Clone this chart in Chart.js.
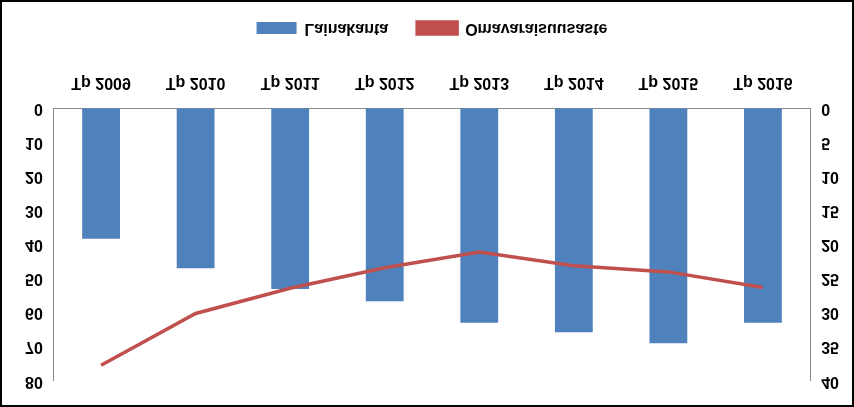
<!DOCTYPE html>
<html>
<head>
<meta charset="utf-8">
<script src="https://cdn.jsdelivr.net/npm/chart.js@4/dist/chart.umd.min.js"></script>
<style>
  html, body { margin: 0; padding: 0; background: #fff; }
  #wrap { width: 850px; height: 403px; border: 2px solid #000; position: relative; }
  /* reference is vertically mirrored */
  #chart { transform: scaleY(-1); }
</style>
</head>
<body>
<div id="wrap"><canvas id="chart" width="850" height="403"></canvas></div>
<script>
const labels = ["Tp 2009", "Tp 2010", "Tp 2011", "Tp 2012", "Tp 2013", "Tp 2014", "Tp 2015", "Tp 2016"];
const lainakanta = [38.3, 46.9, 53, 56.6, 62.9, 65.7, 68.9, 62.9];
const omavaraisuus = [37.7, 30.1, 26.4, 23.4, 21.1, 23.1, 24, 26.3];

const font = { family: "Liberation Sans, Arial", size: 16, weight: "bold" };

new Chart(document.getElementById("chart"), {
  data: {
    labels: labels,
    datasets: [
      {
        type: "line",
        label: "Omavaraisuusaste",
        data: omavaraisuus,
        yAxisID: "y1",
        borderColor: "#C0504D",
        backgroundColor: "#C0504D",
        borderWidth: 3.5,
        pointRadius: 0,
        tension: 0,
        order: 0,
      },
      {
        type: "bar",
        label: "Lainakanta",
        data: lainakanta,
        yAxisID: "y",
        backgroundColor: "#4F81BD",
        categoryPercentage: 0.8,
        barPercentage: 0.5,
        order: 1,
      },
    ],
  },
  options: {
    responsive: false,
    animation: false,
    layout: { padding: { left: 20, right: 10, top: 24, bottom: 8 } },
    plugins: {
      legend: {
        position: "bottom",
        reverse: true,
        labels: { font: font, color: "#000", boxWidth: 40, boxHeight: 12, padding: 29 },
      },
      tooltip: { enabled: false },
    },
    scales: {
      x: {
        grid: { display: false },
        border: { color: "#888" },
        ticks: { font: font, color: "#000", maxRotation: 0, padding: 8 },
      },
      y: {
        position: "left",
        min: 0, max: 80,
        ticks: { stepSize: 10, font: font, color: "#000" },
        grid: { display: false },
        border: { color: "#888" },
      },
      y1: {
        position: "right",
        min: 0, max: 40,
        ticks: { stepSize: 5, font: font, color: "#000" },
        grid: { display: false },
        border: { color: "#888" },
      },
    },
  },
});
</script>
</body>
</html>
